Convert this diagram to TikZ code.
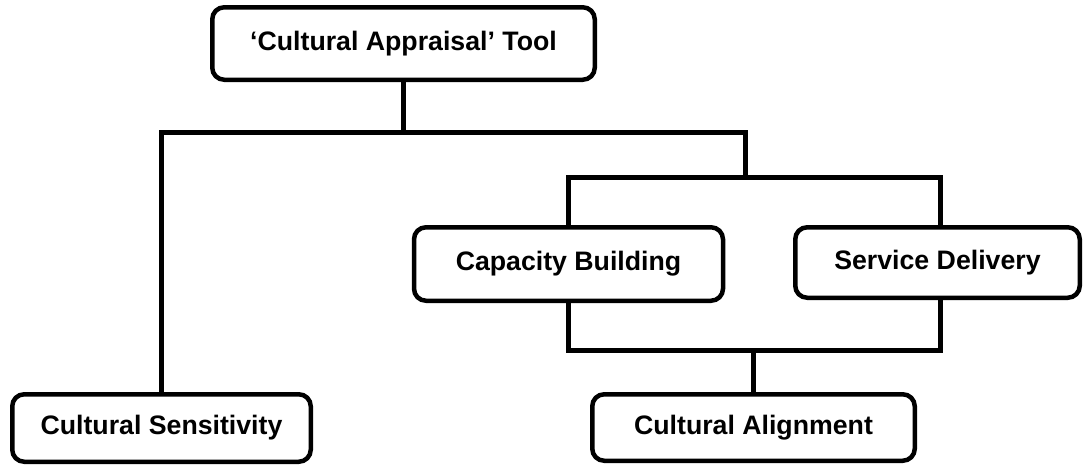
\documentclass[tikz,border=0pt]{standalone}
\usepackage{fontspec}
\setmainfont{Liberation Sans}
\begin{document}
\begin{tikzpicture}[x=1pt,y=-1pt,
  box/.style={draw, line width=4.5pt, rounded corners=12pt, fill=white,
    inner sep=0pt, font=\fontsize{26.7}{30}\selectfont\bfseries, align=center},
  link/.style={line width=4.8pt, line cap=rect}]
\useasboundingbox (0,0) rectangle (1084,466);

% boxes
\node[box, minimum width=382.5pt, minimum height=72.5pt] (tool) at (403.5,43.5) {‘Cultural Appraisal’ Tool};
\node[box, minimum width=309pt, minimum height=73.5pt] (cap) at (568.5,264) {Capacity Building};
\node[box, minimum width=284.5pt, minimum height=70.5pt] (serv) at (937.5,262.5) {Service Delivery};
\node[box, minimum width=298.5pt, minimum height=67.5pt] (sens) at (161.5,428) {Cultural Sensitivity};
\node[box, minimum width=322.5pt, minimum height=66.5pt] (align) at (753.5,427.5) {Cultural Alignment};

% branching points
\coordinate (barL) at (161.5,132.5);
\coordinate (barR) at (745.5,132.5);
\coordinate (subL) at (568.5,177.5);
\coordinate (subR) at (940.5,177.5);
\coordinate (joinL) at (568.5,350.5);
\coordinate (joinR) at (940.5,350.5);

% connectors
\draw[link] (tool.south) -- (tool.south |- barL);
\draw[link] (sens.north) -- (barL) -- (barR) -- (barR |- subL);
\draw[link] (cap.north) -- (subL) -- (subR) -- (serv.north -| subR);
\draw[link] (cap.south) -- (joinL) -- (joinR) -- (serv.south -| joinR);
\draw[link] (align.north) -- (align.north |- joinL);
\end{tikzpicture}
\end{document}
